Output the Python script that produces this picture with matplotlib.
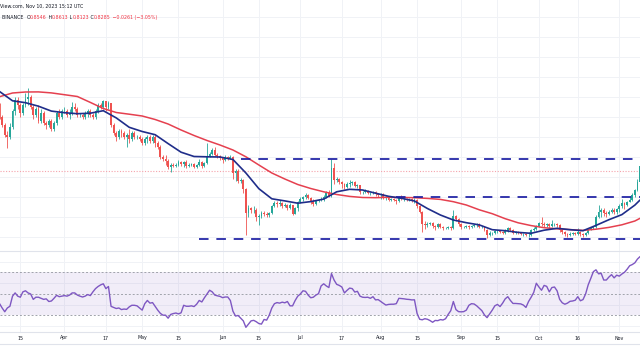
import matplotlib
matplotlib.use("Agg")
import matplotlib.pyplot as plt
import matplotlib.dates as mdates
import numpy as np
import pandas as pd
from matplotlib.lines import Line2D
from matplotlib.transforms import blended_transform_factory

# daily candles, 2023-03-07 .. 2023-11-10 (open = previous close)
first_open = 1.16

close_mar = [1.10, 1.06, 1.01, 1.00, 1.05, 1.13, 1.185, 1.16, 1.12, 1.16, 1.19, 1.20, 1.15,
             1.11, 1.14, 1.08, 1.12, 1.07, 1.06, 1.08, 1.04, 1.07, 1.12, 1.10, 1.13]
high_mar = [1.17, 1.11, 1.07, 1.03, 1.07, 1.14, 1.20, 1.20, 1.17, 1.17, 1.22, 1.245, 1.21,
            1.16, 1.15, 1.16, 1.14, 1.13, 1.08, 1.09, 1.09, 1.08, 1.13, 1.14, 1.14]
low_mar = [1.09, 1.05, 1.00, 0.945, 0.99, 1.04, 1.11, 1.14, 1.10, 1.11, 1.15, 1.16, 1.14,
           1.09, 1.10, 1.07, 1.07, 1.06, 1.04, 1.05, 1.03, 1.03, 1.06, 1.09, 1.09]

close_apr = [1.13, 1.11, 1.12, 1.15, 1.14, 1.11, 1.11, 1.10, 1.12, 1.13, 1.11, 1.10, 1.13, 1.16, 1.15,
             1.18, 1.15, 1.17, 1.06, 1.02, 1.00, 1.03, 1.02, 1.00, 1.01, 0.99, 1.02, 1.00, 1.00, 0.99]
high_apr = [1.15, 1.14, 1.14, 1.175, 1.17, 1.15, 1.12, 1.12, 1.13, 1.14, 1.14, 1.12, 1.14, 1.17, 1.17,
            1.185, 1.18, 1.18, 1.17, 1.07, 1.03, 1.04, 1.04, 1.03, 1.02, 1.04, 1.03, 1.03, 1.01, 1.01]
low_apr = [1.12, 1.10, 1.09, 1.11, 1.13, 1.10, 1.10, 1.09, 1.09, 1.10, 1.10, 1.09, 1.09, 1.12, 1.14,
           1.14, 1.13, 1.14, 1.05, 1.01, 0.98, 0.99, 1.00, 0.99, 0.95, 0.97, 0.98, 0.99, 0.99, 0.98]

close_may = [0.97, 0.99, 1.00, 0.98, 1.00, 0.97, 0.95, 0.90, 0.89, 0.88, 0.85, 0.86, 0.855, 0.86, 0.875, 0.865,
             0.875, 0.855, 0.86, 0.865, 0.85, 0.86, 0.875, 0.855, 0.87, 0.905, 0.915, 0.935, 0.91, 0.905, 0.895]
high_may = [1.00, 1.00, 1.01, 1.01, 1.01, 1.01, 0.98, 0.96, 0.91, 0.91, 0.89, 0.87, 0.87, 0.87, 0.885, 0.88,
            0.88, 0.885, 0.87, 0.87, 0.87, 0.865, 0.89, 0.88, 0.875, 0.97, 0.925, 0.945, 0.95, 0.92, 0.91]
low_may = [0.96, 0.96, 0.97, 0.97, 0.97, 0.95, 0.94, 0.89, 0.88, 0.86, 0.84, 0.825, 0.85, 0.85, 0.855, 0.855,
           0.85, 0.845, 0.85, 0.855, 0.845, 0.845, 0.855, 0.845, 0.85, 0.865, 0.90, 0.91, 0.905, 0.895, 0.885]

close_jun = [0.885, 0.90, 0.895, 0.90, 0.82, 0.83, 0.78, 0.785, 0.74, 0.62, 0.645, 0.635, 0.635, 0.60, 0.605,
             0.62, 0.615, 0.61, 0.62, 0.655, 0.67, 0.665, 0.67, 0.655, 0.66, 0.645, 0.66, 0.615, 0.645, 0.675]
high_jun = [0.90, 0.91, 0.905, 0.91, 0.905, 0.84, 0.84, 0.795, 0.79, 0.745, 0.66, 0.65, 0.655, 0.645, 0.615,
            0.63, 0.63, 0.625, 0.625, 0.66, 0.68, 0.68, 0.685, 0.675, 0.67, 0.665, 0.67, 0.66, 0.65, 0.68]
low_jun = [0.87, 0.88, 0.885, 0.89, 0.79, 0.78, 0.77, 0.77, 0.72, 0.51, 0.60, 0.62, 0.62, 0.58, 0.56,
           0.595, 0.605, 0.60, 0.60, 0.615, 0.65, 0.65, 0.655, 0.645, 0.65, 0.635, 0.64, 0.61, 0.615, 0.63]

close_jul = [0.69, 0.70, 0.71, 0.695, 0.675, 0.665, 0.68, 0.685, 0.69, 0.70, 0.72, 0.705, 0.845, 0.785, 0.79, 0.775,
             0.765, 0.75, 0.765, 0.77, 0.775, 0.755, 0.76, 0.725, 0.725, 0.73, 0.72, 0.72, 0.725, 0.715, 0.71]
high_jul = [0.70, 0.705, 0.72, 0.715, 0.70, 0.69, 0.685, 0.69, 0.70, 0.71, 0.73, 0.735, 0.89, 0.87, 0.80, 0.795,
            0.78, 0.77, 0.775, 0.785, 0.78, 0.78, 0.765, 0.76, 0.73, 0.74, 0.735, 0.725, 0.73, 0.73, 0.72]
low_jul = [0.67, 0.68, 0.69, 0.69, 0.665, 0.655, 0.66, 0.675, 0.68, 0.68, 0.695, 0.70, 0.70, 0.765, 0.775, 0.765,
           0.745, 0.74, 0.745, 0.75, 0.76, 0.75, 0.745, 0.715, 0.715, 0.72, 0.715, 0.71, 0.715, 0.705, 0.70]

close_aug = [0.715, 0.695, 0.695, 0.685, 0.69, 0.685, 0.68, 0.70, 0.69, 0.69, 0.685, 0.69, 0.68, 0.685, 0.655, 0.625,
             0.565, 0.56, 0.565, 0.57, 0.555, 0.55, 0.565, 0.55, 0.545, 0.545, 0.55, 0.545, 0.605, 0.59, 0.565]
high_aug = [0.72, 0.72, 0.705, 0.70, 0.695, 0.695, 0.69, 0.705, 0.71, 0.695, 0.695, 0.695, 0.695, 0.695, 0.69, 0.66,
            0.63, 0.58, 0.575, 0.575, 0.575, 0.56, 0.57, 0.57, 0.555, 0.55, 0.555, 0.555, 0.635, 0.61, 0.595]
low_aug = [0.69, 0.69, 0.685, 0.68, 0.68, 0.68, 0.665, 0.675, 0.685, 0.68, 0.68, 0.68, 0.675, 0.67, 0.645, 0.62,
           0.525, 0.54, 0.55, 0.56, 0.545, 0.535, 0.545, 0.545, 0.535, 0.54, 0.54, 0.535, 0.54, 0.58, 0.555]

close_sep = [0.55, 0.55, 0.555, 0.55, 0.555, 0.56, 0.565, 0.55, 0.55, 0.535, 0.51, 0.52, 0.52, 0.53, 0.53,
             0.525, 0.52, 0.53, 0.545, 0.535, 0.52, 0.525, 0.52, 0.515, 0.515, 0.51, 0.51, 0.535, 0.54, 0.555]
high_sep = [0.57, 0.555, 0.56, 0.56, 0.56, 0.565, 0.57, 0.57, 0.555, 0.555, 0.54, 0.53, 0.525, 0.535, 0.535,
            0.535, 0.53, 0.54, 0.55, 0.55, 0.54, 0.53, 0.53, 0.525, 0.52, 0.52, 0.525, 0.54, 0.55, 0.56]
low_sep = [0.54, 0.545, 0.545, 0.54, 0.545, 0.55, 0.55, 0.545, 0.545, 0.53, 0.495, 0.505, 0.51, 0.515, 0.52,
           0.52, 0.515, 0.515, 0.525, 0.53, 0.515, 0.515, 0.515, 0.51, 0.505, 0.505, 0.50, 0.505, 0.53, 0.535]

close_oct = [0.57, 0.565, 0.56, 0.565, 0.555, 0.565, 0.565, 0.56, 0.535, 0.525, 0.515, 0.51, 0.515, 0.52, 0.515, 0.525,
             0.515, 0.51, 0.52, 0.54, 0.545, 0.55, 0.60, 0.625, 0.635, 0.62, 0.615, 0.625, 0.635, 0.625, 0.64]
high_oct = [0.575, 0.60, 0.575, 0.57, 0.57, 0.585, 0.57, 0.57, 0.565, 0.54, 0.53, 0.52, 0.525, 0.525, 0.525, 0.545,
            0.53, 0.52, 0.525, 0.545, 0.55, 0.555, 0.61, 0.66, 0.645, 0.645, 0.63, 0.635, 0.645, 0.645, 0.645]
low_oct = [0.55, 0.555, 0.55, 0.55, 0.545, 0.55, 0.555, 0.55, 0.525, 0.515, 0.505, 0.50, 0.505, 0.51, 0.51, 0.51,
           0.505, 0.50, 0.505, 0.515, 0.535, 0.54, 0.545, 0.595, 0.60, 0.605, 0.60, 0.61, 0.62, 0.615, 0.615]

close_nov = [0.655, 0.67, 0.66, 0.675, 0.685, 0.71, 0.735, 0.775, 0.8546, 0.8285]
high_nov = [0.665, 0.69, 0.675, 0.68, 0.705, 0.72, 0.74, 0.79, 0.87, 0.8613]
low_nov = [0.625, 0.645, 0.64, 0.655, 0.675, 0.68, 0.70, 0.73, 0.77, 0.8123]

# RSI(14), one value per candle
rsi_mar = [41, 37, 33.5, 37, 38.6, 48, 51, 48, 47, 52, 53, 51, 50, 45, 47, 47, 46, 45, 45.5, 43, 43.5,
           46, 48.8, 47.5, 48]
rsi_apr = [48.5, 48, 49, 51, 51, 49, 48, 47.2, 48, 49.5, 48.5, 52, 55, 57, 58.5, 59.5, 55, 57, 38.5, 37.5,
           36.5, 37, 35.5, 36, 35.7, 38, 39.5, 39.5, 39, 37]
rsi_may = [35, 41, 44, 41.5, 42, 38.5, 35, 32, 30.3, 30.3, 27.5, 31, 31.8, 32.3, 31.5, 32.5, 39.5, 38.6, 38.6,
           39, 38.3, 40.5, 44, 42.6, 46.5, 50, 53.5, 52, 49, 48.3, 47.8]
rsi_jun = [46.6, 47.2, 47.2, 44, 34, 29.5, 30, 27.5, 25, 19, 22, 25, 25.5, 24.2, 22.5, 22, 26.3, 25.7, 30.3,
           37, 41, 42, 41.5, 42.4, 41.8, 43, 39, 39, 44, 48]
rsi_jul = [50, 53, 52.5, 49, 46.5, 47, 49, 50.3, 57.5, 59.5, 57.5, 56, 69, 63, 59, 58, 56.5, 51, 53.4, 55.5,
           55, 51.8, 52.5, 48, 47, 46.8, 47, 46, 47.5, 44.5, 44.8]
rsi_aug = [43, 41.3, 39.7, 40.3, 40.5, 40.5, 41, 46, 45.8, 45.5, 45.1, 44.9, 44.5, 44.6, 32, 26.5, 26, 27,
           26.5, 25.3, 23.7, 25.4, 25.2, 26.2, 25.8, 27, 31, 34.5, 43, 35.5, 33.6]
rsi_sep = [33.4, 33.6, 35, 39.5, 41, 40.7, 39, 36.8, 34.5, 30.5, 28, 31.5, 35, 39, 40.3, 38.3, 41.5, 45.5,
           47.5, 44, 41.2, 41.2, 41, 40.8, 39.7, 37.5, 43, 47, 51.5, 60]
rsi_oct = [56.5, 53.5, 58, 57.1, 52, 56, 56.5, 53, 45, 41.8, 40.5, 41.5, 43.2, 43.5, 44.2, 47.5, 43.7, 44.8,
           50, 58.5, 64.5, 70.8, 72.5, 68.8, 69.2, 63, 63, 65.8, 68, 65, 67.5]
rsi_nov = [66.6, 68.6, 70.2, 73, 76.3, 77.4, 79, 82.5, 84.8, 82]

# moving averages read every 5 days (last one on Nov 9)
ema20 = [1.2275, 1.181, 1.1715, 1.154, 1.1295, 1.1215, 1.1165, 1.119, 1.1315, 1.0955, 1.0485, 1.0275,
         1.0115, 0.967, 0.924, 0.9025, 0.901, 0.900, 0.8875, 0.82, 0.7415, 0.691, 0.6805, 0.669, 0.677,
         0.6895, 0.726, 0.7385, 0.735, 0.719, 0.7035, 0.6935, 0.68, 0.6425, 0.61, 0.585, 0.5715, 0.5605,
         0.5365, 0.5315, 0.523, 0.5185, 0.534, 0.5435, 0.5365, 0.5315, 0.558, 0.5865, 0.612, 0.6595, 0.685]
sma50 = [1.2015, 1.22, 1.225, 1.2255, 1.2205, 1.2115, 1.2025, 1.173, 1.1425, 1.1225, 1.114, 1.105, 1.0875,
         1.065, 1.035, 1.0075, 0.9825, 0.96, 0.935, 0.901, 0.86, 0.82, 0.79, 0.7625, 0.7425, 0.726, 0.7125,
         0.703, 0.6975, 0.6965, 0.6985, 0.698, 0.6965, 0.693, 0.688, 0.6765, 0.66, 0.636, 0.6165, 0.5915,
         0.571, 0.557, 0.5465, 0.541, 0.537, 0.533, 0.539, 0.548, 0.561, 0.58, 0.5935]

# horizontal levels drawn on the chart
level_prices = [0.888, 0.699, 0.489]
level_starts = ["2023-06-08", "2023-08-07", "2023-05-23"]
last_price = 0.8285

tick_dates = ["2023-03-15", "2023-04-01", "2023-04-17", "2023-05-01", "2023-05-15", "2023-06-01",
              "2023-06-15", "2023-07-01", "2023-07-17", "2023-08-01", "2023-08-15", "2023-09-01",
              "2023-09-15", "2023-10-01", "2023-10-16", "2023-11-01"]
tick_labels = ["15", "Apr", "17", "May", "15", "Jun", "15", "Jul", "17", "Aug", "15", "Sep",
               "15", "Oct", "16", "Nov"]

header_top = "View.com, Nov 10, 2023 15:12 UTC"
header_ohlc = [("BINANCE  ", "dark"), ("O", "dark"), ("0.8546", "red"), (" H", "dark"), ("0.8613", "red"),
               (" L", "dark"), ("0.8123", "red"), (" C", "dark"), ("0.8285", "red"),
               (" \u22120.0261 (\u22123.05%)", "red")]

close = np.array(close_mar + close_apr + close_may + close_jun + close_jul + close_aug + close_sep + close_oct + close_nov)
high = np.array(high_mar + high_apr + high_may + high_jun + high_jul + high_aug + high_sep + high_oct + high_nov)
low = np.array(low_mar + low_apr + low_may + low_jun + low_jul + low_aug + low_sep + low_oct + low_nov)
rsi = np.array(rsi_mar + rsi_apr + rsi_may + rsi_jun + rsi_jul + rsi_aug + rsi_sep + rsi_oct + rsi_nov)
opens = np.r_[first_open, close[:-1]]

dates = pd.date_range("2023-03-07", periods=len(close), freq="D")
xd = mdates.date2num(dates)
ma_dates = mdates.date2num(list(pd.date_range("2023-03-07", "2023-11-07", freq="5D")) + [pd.Timestamp("2023-11-09")])

UP, DOWN = "#26a69a", "#ef5350"
TXT = "#131722"
RED_TXT = "#f23645"
GRID = "#f0f2f6"
SEP = "#e0e3eb"

fig = plt.figure(figsize=(6.4, 3.6), dpi=100)
fig.patch.set_facecolor("white")
H = 360.0
ax = fig.add_axes([0, 1 - 251 / H, 1, 251 / H])
ax_r = fig.add_axes([0, 1 - 332 / H, 1, 81 / H], sharex=ax)

for a in (ax, ax_r):
    for s in a.spines.values():
        s.set_visible(False)
    a.tick_params(left=False, bottom=False, labelleft=False, labelbottom=False)
    for d in tick_dates:
        a.axvline(mdates.datestr2num(d), color=GRID, lw=0.7, zorder=0)

ax.set_xlim(xd[0] + 0.17, xd[0] + 246.98)
ax.set_ylim(0.43, 1.685)
ax_r.set_ylim(14.65, 90)

for p in np.arange(0.5, 1.65, 0.1):
    ax.axhline(p, color=GRID, lw=0.7, zorder=0)
for r in (20, 40, 60, 80):
    ax_r.axhline(r, color=GRID, lw=0.7, zorder=0)

# candles
up = close >= opens
colors = np.where(up, UP, DOWN)
ax.vlines(xd, low, high, colors=colors, lw=0.6, zorder=2)
body = np.maximum(np.abs(close - opens), 0.002)
ax.bar(xd, body, bottom=np.minimum(opens, close), width=0.72, color=colors, lw=0, zorder=3)

# moving averages
ax.plot(ma_dates, sma50, color="#e5404f", lw=1.1, zorder=4, solid_capstyle="round")
ax.plot(ma_dates, ema20, color="#1f2d8a", lw=1.2, zorder=5, solid_capstyle="round")

# levels
for p, s in zip(level_prices, level_starts):
    ax.hlines(p, mdates.datestr2num(s), xd[-1] + 5, colors="#1c1fa3", lw=1.25,
              linestyles=(0, (5.5, 4.5)), zorder=6)
ax.axhline(last_price, color="#f5a3ab", lw=0.8, ls=(0, (1, 1.5)), zorder=1)

# RSI pane
ax_r.axhspan(30, 70, color="#7e57c2", alpha=0.1, lw=0, zorder=0)
for r in (70, 50, 30):
    ax_r.axhline(r, color="#a0a3ab", lw=0.7, ls=(0, (2, 2)), zorder=1)
ax_r.plot(xd, rsi, color="#7e57c2", lw=1.0, zorder=3)

# separators and time axis
for yy in (251, 332, 344):
    fig.add_artist(Line2D([0, 1], [1 - yy / H, 1 - yy / H], transform=fig.transFigure, color=SEP, lw=0.8))
tr = blended_transform_factory(ax_r.transData, fig.transFigure)
for d, lab in zip(tick_dates, tick_labels):
    ax_r.text(mdates.datestr2num(d), 1 - 338 / H, lab, transform=tr, ha="center", va="center",
              fontsize=3.4, color=TXT, clip_on=False)

# header
fs = 3.4
fig.text(0.0, 1 - 6 / H, header_top, fontsize=fs, color=TXT, va="center", ha="left")
t = fig.text(2 / 640, 1 - 17.5 / H, header_ohlc[0][0], fontsize=fs, color=TXT, va="center", ha="left")
for s, c in header_ohlc[1:]:
    t = ax.annotate(s, xy=(1, 0), xycoords=t, xytext=(0, 0), textcoords="offset points",
                    va="bottom", ha="left", fontsize=fs, color=RED_TXT if c == "red" else TXT,
                    annotation_clip=False)

fig.savefig("out.png", dpi=100, facecolor="white")
